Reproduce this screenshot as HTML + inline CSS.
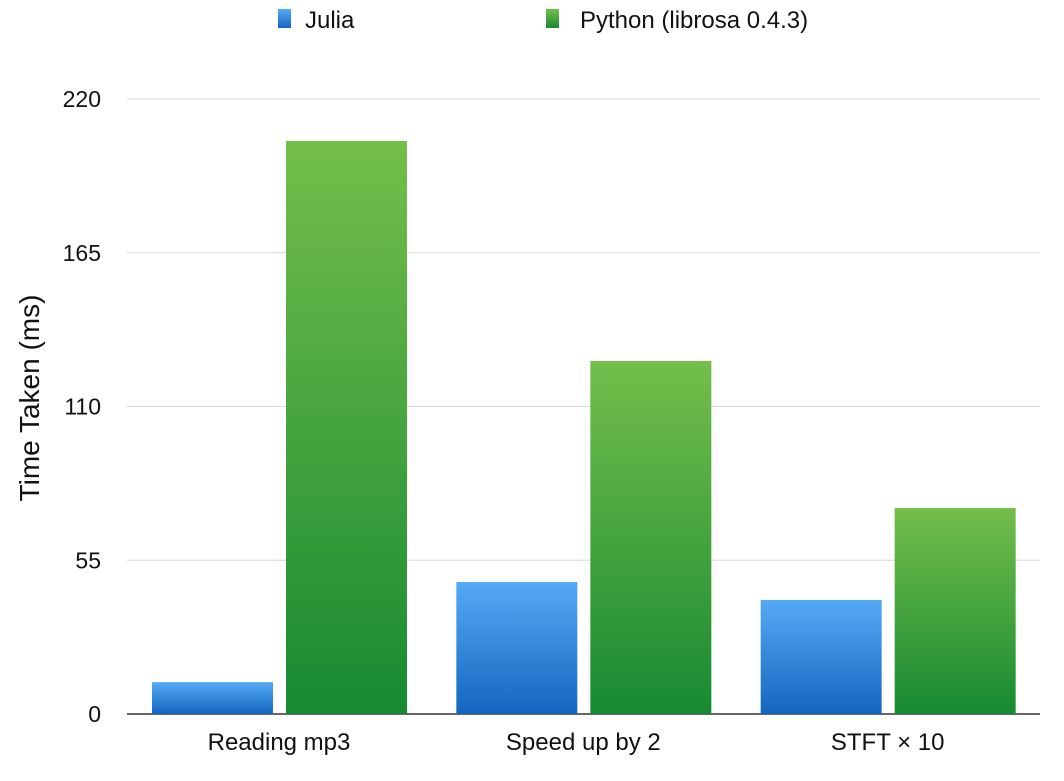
<!DOCTYPE html>
<html><head><meta charset="utf-8"><style>
body{margin:0;background:#fff;font-family:"Liberation Sans",Arial,sans-serif;}
svg text{font-family:"Liberation Sans",Arial,sans-serif;fill:#111;}
</style></head><body>
<svg id="chart" width="1064" height="776">
<defs>
<linearGradient id="gb" x1="0" y1="0" x2="0" y2="1"><stop offset="0" stop-color="#55aaf5"/><stop offset="1" stop-color="#1565c0"/></linearGradient>
<linearGradient id="gg" x1="0" y1="0" x2="0" y2="1"><stop offset="0" stop-color="#74be4b"/><stop offset="1" stop-color="#178a32"/></linearGradient>
</defs>
<g id="grid"></g><g id="bars"></g><g id="labels"></g>
<rect x="278" y="9" width="13" height="19" fill="url(#gb)"/>
<text x="305" y="28" font-size="24">Julia</text>
<rect x="546" y="9" width="13" height="19" fill="url(#gg)"/>
<text x="580" y="28" font-size="24">Python (librosa 0.4.3)</text>
<text transform="translate(39,398) rotate(-90)" text-anchor="middle" font-size="28">Time Taken (ms)</text>
</svg>
<script>
const categories=["Reading mp3","Speed up by 2","STFT × 10"];
const julia=[11.4,47.2,40.8];
const python=[205,126.3,73.7];
const ticks=[0,55,110,165,220];
const ns="http://www.w3.org/2000/svg";
const x0=127,x1=1040,yBase=714,yTop=99,yMax=220;
const y=v=>yBase-(v/yMax)*(yBase-yTop);
const gw=(x1-x0)/categories.length;
function mk(t,a,p){const e=document.createElementNS(ns,t);for(const k in a)e.setAttribute(k,a[k]);document.getElementById(p).appendChild(e);return e;}
ticks.forEach((t,i)=>{
 const l=mk('line',{x1:x0,x2:x1,y1:y(t),y2:y(t),stroke:t===0?'#333':'#d8d8d8','stroke-width':t===0?1.5:1},'grid');
 
 
 const tx=mk('text',{x:101,y:y(t)+8,'text-anchor':'end','font-size':23},'labels');tx.textContent=t;
 
 
});
categories.forEach((c,i)=>{
 const gx=x0+i*gw;
 const b1=mk('rect',{x:gx+25,y:y(julia[i]),width:121,height:yBase-y(julia[i]),fill:'url(#gb)'},'bars');
 
 
 const b2=mk('rect',{x:gx+159,y:y(python[i]),width:121,height:yBase-y(python[i]),fill:'url(#gg)'},'bars');
 
 
 const t=mk('text',{x:gx+152,y:750,'text-anchor':'middle','font-size':24},'labels');t.textContent=c;
 
 
});
</script>
</body></html>
